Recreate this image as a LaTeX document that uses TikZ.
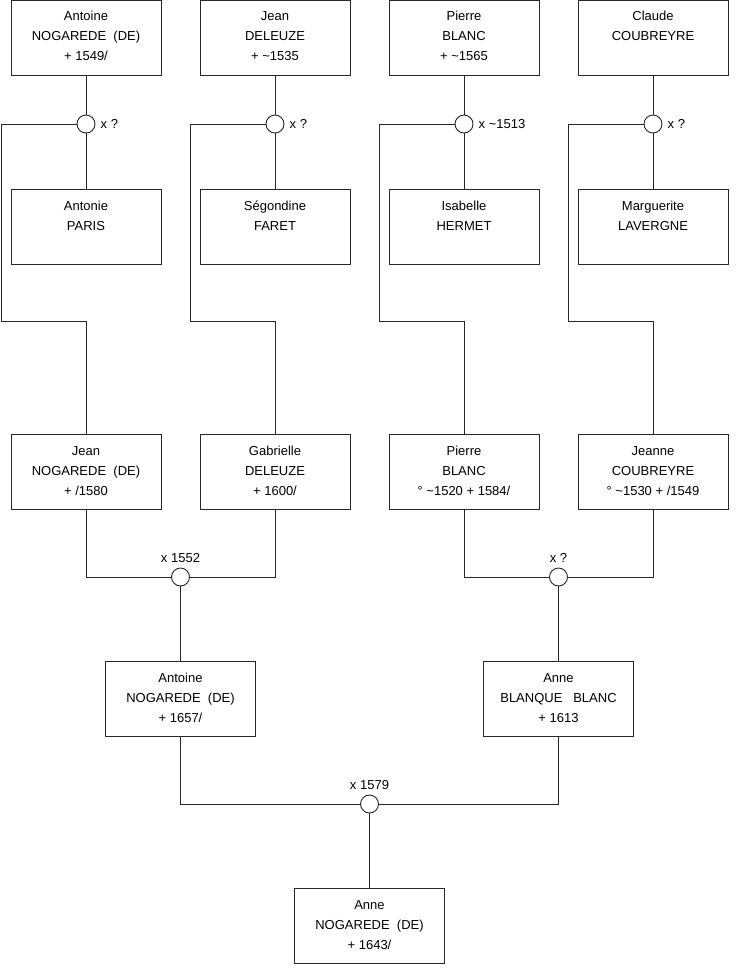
\documentclass[tikz,border=0pt]{standalone}
\usepackage{fontspec}
\setmainfont{Liberation Sans}
\definecolor{linec}{RGB}{40,40,40}
\newcommand\fs{\fontsize{13}{20}\selectfont}
\newcommand\ptext[1]{\parbox[c][75pt][t]{150pt}{\fs\centering\rule{0pt}{20.5pt}#1\par}}
\tikzset{
 person/.style={draw=linec, line width=0.9pt, inner sep=0pt, fill=white},
 union/.style={circle, draw=linec, line width=0.9pt, fill=white, minimum size=18pt, inner sep=0pt},
 link/.style={draw=linec, line width=0.9pt},
 lbl/.style={inner sep=0pt, font=\fs}
}
\begin{document}
\begin{tikzpicture}[x=1pt,y=-1pt]
\useasboundingbox (0,0) rectangle (740,975);
% row 1
\node[person] (a1) at (86,37.5) {\ptext{Antoine\\NOGAREDE\ \ (DE)\\+ 1549/}};
\node[person] (a2) at (275,37.5) {\ptext{Jean\\DELEUZE\\+ \textasciitilde1535}};
\node[person] (a3) at (464,37.5) {\ptext{Pierre\\BLANC\\+ \textasciitilde1565}};
\node[person] (a4) at (653,37.5) {\ptext{Claude\\COUBREYRE}};
% row 2
\node[person] (b1) at (86,227) {\ptext{Antonie\\PARIS}};
\node[person] (b2) at (275,227) {\ptext{Ségondine\\FARET}};
\node[person] (b3) at (464,227) {\ptext{Isabelle\\HERMET}};
\node[person] (b4) at (653,227) {\ptext{Marguerite\\LAVERGNE}};
% unions row 1
\node[union] (u1) at (86,124) {};
\node[union] (u2) at (275,124) {};
\node[union] (u3) at (464,124) {};
\node[union] (u4) at (653,124) {};
\node[lbl, anchor=west] at ([xshift=5pt]u1.east) {x ?};
\node[lbl, anchor=west] at ([xshift=5pt]u2.east) {x ?};
\node[lbl, anchor=west] at ([xshift=5pt]u3.east) {x \textasciitilde1513};
\node[lbl, anchor=west] at ([xshift=5pt]u4.east) {x ?};
% row 3
\node[person] (c1) at (86,472) {\ptext{Jean\\NOGAREDE\ \ (DE)\\+ /1580}};
\node[person] (c2) at (275,472) {\ptext{Gabrielle\\DELEUZE\\+ 1600/}};
\node[person] (c3) at (464,472) {\ptext{Pierre\\BLANC\\° \textasciitilde1520 + 1584/}};
\node[person] (c4) at (653,472) {\ptext{Jeanne\\COUBREYRE\\° \textasciitilde1530 + /1549}};
% unions row 3
\node[union] (m1) at (180.5,577) {};
\node[union] (m2) at (558.5,577) {};
\node[lbl, anchor=base] at ([yshift=5pt]m1.north) {x 1552};
\node[lbl, anchor=base] at ([yshift=5pt]m2.north) {x ?};
% row 4
\node[person] (d1) at (180.5,699) {\ptext{Antoine\\NOGAREDE\ \ (DE)\\+ 1657/}};
\node[person] (d2) at (558.5,699) {\ptext{Anne\\BLANQUE\ \ \ BLANC\\+ 1613}};
\node[union] (m3) at (369.5,804) {};
\node[lbl, anchor=base] at ([yshift=5pt]m3.north) {x 1579};
% bottom
\node[person] (e1) at (369.5,926) {\ptext{Anne\\NOGAREDE\ \ (DE)\\+ 1643/}};
% bend coordinates
\coordinate (k1) at (1,321);
\coordinate (k2) at (190,321);
\coordinate (k3) at (379,321);
\coordinate (k4) at (568,321);
% connectors
\foreach \i in {1,2,3,4}{
  \draw[link] (a\i) -- (u\i);
  \draw[link] (u\i) -- (b\i);
  \draw[link] (u\i.west) -| (k\i) -| (c\i.north);
}
\draw[link] (c1.south) |- (m1.west);
\draw[link] (c2.south) |- (m1.east);
\draw[link] (c3.south) |- (m2.west);
\draw[link] (c4.south) |- (m2.east);
\draw[link] (m1) -- (d1);
\draw[link] (m2) -- (d2);
\draw[link] (d1.south) |- (m3.west);
\draw[link] (d2.south) |- (m3.east);
\draw[link] (m3) -- (e1);
\end{tikzpicture}
\end{document}
